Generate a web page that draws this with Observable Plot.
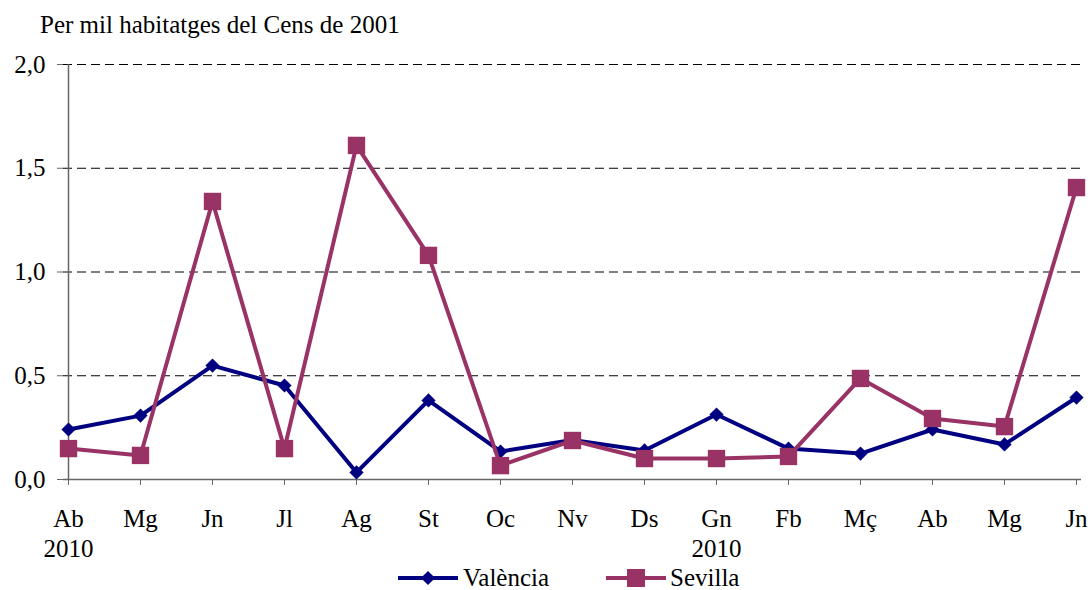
<!DOCTYPE html>
<html>
<head>
<meta charset="utf-8">
<script src="https://cdn.jsdelivr.net/npm/d3@7"></script>
<script src="https://cdn.jsdelivr.net/npm/@observablehq/plot@0.6"></script>
<style>
  html, body { margin: 0; padding: 0; background: #fff; }
  body { width: 1092px; height: 590px; position: relative; overflow: hidden; font-family: "Liberation Serif", "Times New Roman", serif; }
  #title { position: absolute; left: 40px; top: 12px; font-size: 25px; line-height: 25px; color: #000; white-space: nowrap; }
  #chart { position: absolute; left: 0; top: 0; width: 1092px; height: 590px; }
  #chart svg { display: block; }
  #legend { position: absolute; left: 0; top: 560px; width: 1092px; height: 30px; }
</style>
</head>
<body>
<div id="title">Per mil habitatges del Cens de 2001</div>
<div id="chart"></div>
<svg id="legend" width="1092" height="30"></svg>
<script>
const months = ["Ab", "Mg", "Jn", "Jl", "Ag", "St", "Oc", "Nv", "Ds", "Gn", "Fb", "Mç", "Ab", "Mg", "Jn"];
const yearLabels = ["2010", "", "", "", "", "", "", "", "", "2010", "", "", "", "", ""];
const valencia = [0.241, 0.308, 0.549, 0.453, 0.034, 0.381, 0.135, 0.190, 0.140, 0.313, 0.149, 0.125, 0.241, 0.169, 0.395];
const sevilla  = [0.149, 0.116, 1.340, 0.149, 1.610, 1.080, 0.067, 0.188, 0.101, 0.101, 0.111, 0.487, 0.294, 0.255, 1.407];
const yTicks = [0, 0.5, 1.0, 1.5, 2.0];
const seriesNames = ["València", "Sevilla"];
const seriesColors = ["#000080", "#993366"];

const data = [];
months.forEach((m, i) => {
  data.push({i, series: seriesNames[0], v: valencia[i]});
  data.push({i, series: seriesNames[1], v: sevilla[i]});
});
const valData = data.filter(d => d.series === seriesNames[0]);
const sevData = data.filter(d => d.series === seriesNames[1]);

const fmt = v => d3.format(".1f")(v).replace(".", ",");
const axisColor = "#666";
const serif = "'Liberation Serif', 'Times New Roman', serif";

const chart = Plot.plot({
  width: 1092,
  height: 590,
  marginTop: 64,
  marginBottom: 111,
  marginLeft: 63,
  marginRight: 11,
  style: {fontFamily: serif, fontSize: "25px", background: "transparent", overflow: "visible"},
  x: {type: "point", domain: d3.range(months.length), padding: 0},
  y: {domain: [0, 2]},
  marks: [
    Plot.gridY(yTicks.filter(t => t > 0), {stroke: "#000", strokeOpacity: 1, strokeDasharray: "9,5", strokeWidth: 1}),
    Plot.ruleX([0], {stroke: axisColor, strokeWidth: 1.5}),
    Plot.ruleY([0], {stroke: axisColor, strokeWidth: 1.5}),
    Plot.axisY({ticks: yTicks, tickFormat: fmt, tickSize: 6, tickPadding: 12, stroke: axisColor, fill: "#000", fontSize: 25, fontFamily: serif, label: null}),
    Plot.axisX({ticks: d3.range(months.length), tickFormat: i => yearLabels[i] ? months[i] + "\n" + yearLabels[i] : months[i], tickSize: 6, tickPadding: 20, lineHeight: 1.2, stroke: axisColor, fill: "#000", fontSize: 25, fontFamily: serif, label: null}),
    Plot.line(valData, {x: "i", y: "v", stroke: seriesColors[0], strokeWidth: 4}),
    Plot.dot(valData, {x: "i", y: "v", symbol: "diamond2", r: 6.4, fill: seriesColors[0], stroke: "none"}),
    Plot.line(sevData, {x: "i", y: "v", stroke: seriesColors[1], strokeWidth: 4}),
    Plot.dot(sevData, {x: "i", y: "v", symbol: "square", r: 9.8, fill: seriesColors[1], stroke: "none"})
  ]
});
document.getElementById("chart").appendChild(chart);

// Legend
const lg = d3.select("#legend");
const items = [
  {name: seriesNames[0], color: seriesColors[0], x0: 398, x1: 458, textX: 463, sym: "diamond"},
  {name: seriesNames[1], color: seriesColors[1], x0: 606, x1: 666, textX: 670, sym: "square"}
];
const cy = 18;
items.forEach(it => {
  lg.append("line").attr("x1", it.x0).attr("x2", it.x1).attr("y1", cy).attr("y2", cy)
    .attr("stroke", it.color).attr("stroke-width", 4);
  const cx = (it.x0 + it.x1) / 2;
  if (it.sym === "diamond") {
    lg.append("path").attr("d", d3.symbol(d3.symbolDiamond2, 128)()).attr("transform", `translate(${cx},${cy})`).attr("fill", it.color);
  } else {
    lg.append("rect").attr("x", cx - 9).attr("y", cy - 9).attr("width", 18).attr("height", 18).attr("fill", it.color);
  }
  lg.append("text").attr("x", it.textX).attr("y", cy + 8).attr("font-size", 25)
    .attr("font-family", serif).attr("fill", "#000").text(it.name);
});
</script>
</body>
</html>
